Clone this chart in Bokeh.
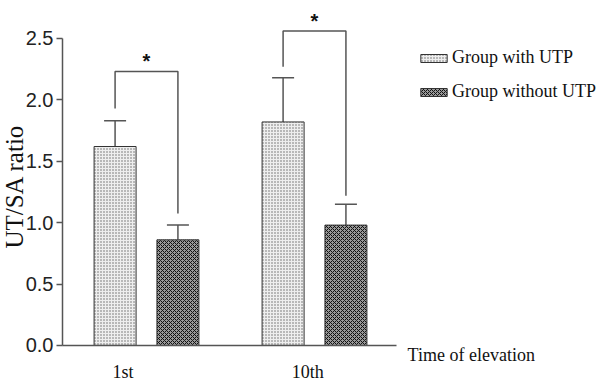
import math
from bokeh.plotting import figure
from bokeh.models import (ColumnDataSource, Range1d, FixedTicker, PrintfTickFormatter,
                          Whisker, TeeHead, Legend, LegendItem, Label)
from bokeh.core.properties import value
from bokeh.embed import file_html
from bokeh.resources import INLINE

# ---- data ----
categories = ["1st", "10th"]
with_utp = [1.62, 1.82]
with_utp_err = [0.21, 0.36]
without_utp = [0.86, 0.98]
without_utp_err = [0.12, 0.17]
y_ticks = [0.0, 0.5, 1.0, 1.5, 2.0, 2.5]
sig_left_low = [1.93, 2.27]
sig_top = [2.23, 2.56]
sig_right_low = [1.075, 1.22]
sig_marks = ["*", "*"]
series_names = ["Group with UTP", "Group without UTP"]
x_title = "Time of elevation"
y_title = "UT/SA ratio"

# ---- styles / layout ----
OFFSET = 0.187
BAR_W = 0.25
LABEL_SHIFT = [-0.14, -0.04]
STAR_GAP = 0.085
AXIS_COLOR = "#555555"
SERIF = "Liberation Serif"
W, H = 604, 384
X_LEFT, X_END = -0.5, 1.488

idx = list(range(len(categories)))
x1 = [i - OFFSET for i in idx]
x2 = [i + OFFSET for i in idx]

p = figure(width=W, height=H, x_range=Range1d(-0.869, 2.726), y_range=Range1d(-0.318, 2.809),
           output_backend="svg", toolbar_location=None,
           min_border_left=0, min_border_right=0, min_border_top=0, min_border_bottom=0)
p.xgrid.visible = False
p.ygrid.visible = False
p.outline_line_color = None
p.background_fill_color = "white"

src1 = ColumnDataSource(dict(x=x1, top=with_utp, upper=[v + e for v, e in zip(with_utp, with_utp_err)]))
src2 = ColumnDataSource(dict(x=x2, top=without_utp, upper=[v + e for v, e in zip(without_utp, without_utp_err)]))

r1 = p.vbar(x='x', top='top', width=BAR_W, source=src1, fill_color="#eeeeee",
            line_color="#333333", line_width=1, hatch_pattern="dot", hatch_color="#666666",
            hatch_scale=3, hatch_weight=1)
r2 = p.vbar(x='x', top='top', width=BAR_W, source=src2, fill_color="#999999",
            line_color="#333333", line_width=1, hatch_pattern="diagonal_cross", hatch_color="#111111",
            hatch_scale=4, hatch_weight=1)

for src in (src1, src2):
    w = Whisker(source=src, base='x', upper='upper', lower='top', dimension='height',
                upper_head=TeeHead(size=22, line_color=AXIS_COLOR, line_width=1.5),
                lower_head=None, line_color=AXIS_COLOR, line_width=1.5)
    p.add_layout(w)

xs = [[x1[i], x1[i], x2[i], x2[i]] for i in idx]
ys = [[sig_left_low[i], sig_top[i], sig_top[i], sig_right_low[i]] for i in idx]
p.multi_line(xs=xs, ys=ys, line_color=AXIS_COLOR, line_width=1.5)

p.text(x=idx, y=[t + STAR_GAP for t in sig_top], text=sig_marks, text_font=value("Liberation Sans"),
       text_font_style="bold", text_font_size="20px", text_align="center", text_baseline="middle",
       text_color="#111111")

legend = Legend(items=[LegendItem(label=series_names[0], renderers=[r1]),
                       LegendItem(label=series_names[1], renderers=[r2])],
                location=(417, 282), glyph_width=33, glyph_height=10, label_height=20,
                label_text_font=SERIF, label_text_font_size="18px", label_text_color="#111111",
                padding=0, spacing=13, margin=0, label_standoff=2,
                border_line_color=None, background_fill_alpha=0)
p.add_layout(legend)

# x axis drawn at y = 0
ticks_x = [i + s for i, s in zip(idx, LABEL_SHIFT)]
p.xaxis.fixed_location = 0
p.xaxis.bounds = (X_LEFT, X_END)
p.xaxis.ticker = FixedTicker(ticks=ticks_x)
p.xaxis.major_label_overrides = {t: c for t, c in zip(ticks_x, categories)}
p.xaxis.major_tick_out = 0
p.xaxis.major_tick_in = 0
p.xaxis.minor_tick_out = 0
p.xaxis.minor_tick_in = 0
p.xaxis.axis_line_color = AXIS_COLOR
p.xaxis.axis_line_width = 1.5
p.xaxis.major_label_text_font = SERIF
p.xaxis.major_label_text_font_size = "18px"
p.xaxis.major_label_text_color = "#111111"
p.xaxis.major_label_standoff = 17

# y axis drawn at x = X_LEFT
p.yaxis.fixed_location = X_LEFT
p.yaxis.ticker = FixedTicker(ticks=y_ticks)
p.yaxis.formatter = PrintfTickFormatter(format="%.1f")
p.yaxis.bounds = (0, 2.5)
p.yaxis.major_tick_out = 6
p.yaxis.major_tick_in = 0
p.yaxis.minor_tick_out = 0
p.yaxis.minor_tick_in = 0
p.yaxis.axis_line_color = AXIS_COLOR
p.yaxis.axis_line_width = 1.5
p.yaxis.major_tick_line_color = AXIS_COLOR
p.yaxis.major_tick_line_width = 1.5
p.yaxis.major_label_text_font = "Liberation Sans"
p.yaxis.major_label_text_font_size = "20px"
p.yaxis.major_label_text_color = "#222222"
p.yaxis.major_label_standoff = 3

p.add_layout(Label(x=-0.787, y=1.295, text=y_title, angle=math.pi / 2, text_align="center",
                   text_baseline="middle", text_font=SERIF, text_font_size="25px",
                   text_color="#111111"))
p.add_layout(Label(x=1.554, y=-0.081, text=x_title, text_align="left", text_baseline="middle",
                   text_font=SERIF, text_font_size="18px", text_color="#111111"))

open("out.html", "w").write(file_html(p, INLINE))
